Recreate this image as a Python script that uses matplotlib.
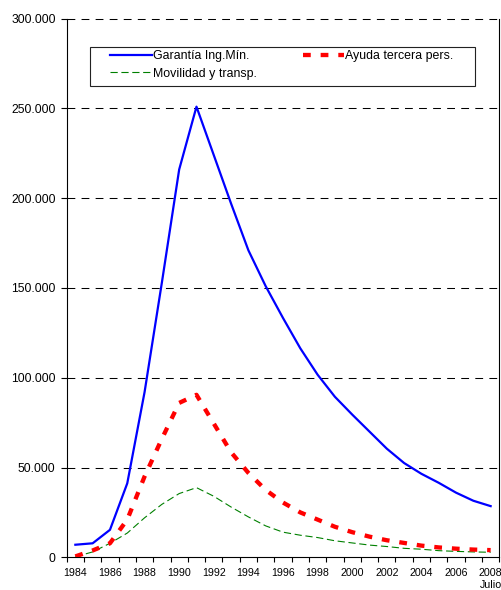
import matplotlib
matplotlib.use("Agg")
import matplotlib.pyplot as plt
from matplotlib.patches import Rectangle
from matplotlib.ticker import FuncFormatter, FixedLocator

plt.rcParams['font.family'] = ['Liberation Sans', 'DejaVu Sans']

years = list(range(1984, 2009))
year_labels = [str(y) for y in range(1984, 2009, 2)]
garantia = [7.0, 7.8, 15.3, 41.2, 92.0, 153.0, 216.0, 251.0, 224.0, 197.0, 171.0,
            151.0, 133.3, 116.4, 101.7, 89.4, 79.5, 70.0, 60.5, 52.5, 46.5,
            41.5, 36.0, 31.5, 28.5]
ayuda = [0.5, 3.8, 7.8, 21.0, 45.0, 66.0, 86.0, 90.5, 74.5, 58.5, 47.0,
         37.5, 30.5, 25.0, 21.0, 17.0, 14.0, 11.5, 9.5, 8.0, 6.5,
         5.5, 4.8, 4.3, 4.0]
movilidad = [0.3, 3.0, 7.8, 13.5, 22.0, 29.5, 35.5, 38.8, 34.0, 28.0, 22.5,
             17.5, 14.0, 12.3, 11.0, 9.2, 8.0, 6.8, 6.0, 5.0, 4.5,
             3.7, 3.3, 3.0, 2.8]
series_names = ["Garantía Ing.Mín.", "Ayuda tercera pers.", "Movilidad y transp."]
y_ticks = [0, 50, 100, 150, 200, 250, 300]

W, H = 501, 590
fig = plt.figure(figsize=(W / 100, H / 100), dpi=100)
L, R, T, B = 66.7, 499.3, 18.7, 557.3
ax = fig.add_axes([L / W, 1 - B / H, (R - L) / W, (B - T) / H])

idx = list(range(len(years)))
g = [v * 1000 for v in garantia]
a = [v * 1000 for v in ayuda]
m = [v * 1000 for v in movilidad]

for yv in y_ticks[1:]:
    ax.axhline(yv * 1000, color='black', lw=0.75, linestyle=(0, (7.5, 6.0)),
               zorder=1, clip_on=False)

l1, = ax.plot(idx, g, color='#0000FF', lw=1.6, zorder=4, label=series_names[0])
l2, = ax.plot(idx, a, color='#FF0000', lw=3.1, linestyle=(0, (1.8, 2.3)),
              dash_capstyle='butt', zorder=3, label=series_names[1])
l3, = ax.plot(idx, m, color='#008000', lw=0.8, linestyle=(0, (6.5, 3.3)),
              zorder=2, label=series_names[2])

ax.set_xlim(-0.5, len(years) - 0.5)
ax.set_ylim(0, 300000)

ax.set_yticks([v * 1000 for v in y_ticks])
ax.yaxis.set_major_formatter(FuncFormatter(lambda v, p: '0' if v == 0 else f"{int(v):,}".replace(',', '.')))
ax.tick_params(axis='y', length=4, width=0.8, pad=4, labelsize=8.7, colors='black')

label_pos = [i for i in idx if (years[i] - 1984) % 2 == 0]
ax.set_xticks(label_pos)
ax.set_xticklabels([lab if lab != '2008' else '2008\nJulio' for lab in year_labels],
                   linespacing=1.3)
ax.tick_params(axis='x', which='major', length=0, pad=7.5, labelsize=7.7)
ax.xaxis.set_minor_locator(FixedLocator([i - 0.5 for i in range(len(years) + 1)]))
ax.tick_params(axis='x', which='minor', length=3.5, width=0.8)
for lbl in ax.get_xticklabels():
    lbl.set_verticalalignment('top')

ax.spines['top'].set_visible(False)
ax.spines['right'].set_linewidth(0.8)
ax.spines['left'].set_linewidth(0.8)
ax.spines['bottom'].set_linewidth(0.8)

# legend frame
x0, y0, x1, y1 = 90, 46.7, 475, 86
fig.patches.append(Rectangle((x0 / W, 1 - y1 / H), (x1 - x0) / W, (y1 - y0) / H,
                             transform=fig.transFigure, fill=False, edgecolor='#222222', lw=0.8))
leg = fig.legend(handles=[l1, l3, l2], ncol=2, frameon=False, fontsize=8.9,
                 loc='upper left', bbox_to_anchor=(110 / W, 1 - 50 / H),
                 borderpad=0, borderaxespad=0, handlelength=3.37, handletextpad=0.1,
                 columnspacing=3.7, labelspacing=0.45)

fig.savefig('out.png', dpi=100)
